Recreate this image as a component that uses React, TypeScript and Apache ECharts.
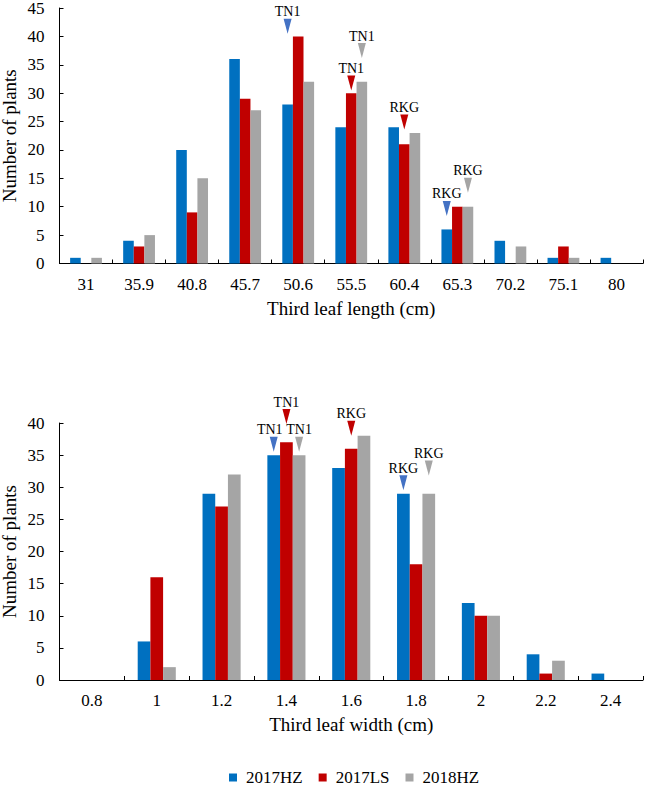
import React, { useEffect, useRef } from "react";
import * as echarts from "echarts";

const lengthCategories = ["31", "35.9", "40.8", "45.7", "50.6", "55.5", "60.4", "65.3", "70.2", "75.1", "80"];
const length2017HZ = [1, 4, 20, 36, 28, 24, 24, 6, 4, 1, 1];
const length2017LS = [0, 3, 9, 29, 40, 30, 21, 10, 0, 3, 0];
const length2018HZ = [1, 5, 15, 27, 32, 32, 23, 10, 3, 1, 0];

const widthCategories = ["0.8", "1", "1.2", "1.4", "1.6", "1.8", "2", "2.2", "2.4"];
const width2017HZ = [0, 6, 29, 35, 33, 29, 12, 4, 1];
const width2017LS = [0, 16, 27, 37, 36, 18, 10, 1, 0];
const width2018HZ = [0, 2, 32, 35, 38, 29, 10, 3, 0];

const seriesNames = ["2017HZ", "2017LS", "2018HZ"];
const barColors = ["#0070C0", "#C00000", "#A5A5A5"];
const arrowColors = ["#4472C4", "#C00000", "#A5A5A5"];

// arrow markers per series: [category index, value at arrow centre, label, extra lift px, label shift px]
type Marker = [number, number, string, number, number];
const lengthMarkers: Marker[][] = [
  [[4, 41.8, "TN1", 0, 0], [7, 9.7, "RKG", 0, 0]],
  [[5, 31.8, "TN1", 0, 0], [6, 24.9, "RKG", 0, 0]],
  [[5, 37.5, "TN1", 0, 0], [7, 13.8, "RKG", 0, 0]],
];
const widthMarkers: Marker[][] = [
  [[3, 36.7, "TN1", 0, -4], [5, 30.7, "RKG", 0, 0]],
  [[3, 40, "TN1", 6.5, 0], [4, 39.2, "RKG", 0, 0]],
  [[3, 36.7, "TN1", 0, 0], [5, 33.0, "RKG", 0, 0]],
];

const FONT = "'Liberation Serif', 'Times New Roman', serif";
const ARROW = "path://M0 0L8 0L4 15Z";

function makeMarkPoint(markers: Marker[], color: string) {
  return {
    symbol: ARROW,
    symbolSize: [8, 15],
    itemStyle: { color },
    label: {
      show: true,
      position: "top",
      distance: 0,
      formatter: "{b}",
      color: "#000",
      fontSize: 14,
      fontFamily: FONT,
    },
    data: markers.map((m) => ({
      name: m[2],
      coord: [m[0], m[1]],
      symbolOffset: [0, -m[3]],
      label: { offset: [m[4], 0] },
    })),
  };
}

function xAxisCfg(gridIndex: number, data: string[], name: string) {
  return {
    gridIndex,
    type: "category",
    data,
    axisLine: { show: true, lineStyle: { color: "#000", width: 1 } },
    axisTick: { show: true, inside: true, length: 4, lineStyle: { color: "#000" } },
    axisLabel: { interval: 0, margin: 12, fontSize: 17, color: "#000", fontFamily: FONT },
    splitLine: { show: false },
    name,
    nameLocation: "middle",
    nameGap: 35,
    nameMoveOverlap: false,
    nameTextStyle: { fontSize: 19, color: "#000", fontFamily: FONT },
  };
}

function yAxisCfg(gridIndex: number, max: number) {
  return {
    gridIndex,
    type: "value",
    min: 0,
    max,
    interval: 5,
    axisLine: { show: true, lineStyle: { color: "#000", width: 1 } },
    axisTick: { show: true, inside: true, length: 4, lineStyle: { color: "#000" } },
    axisLabel: { margin: 15, fontSize: 17, color: "#000", fontFamily: FONT },
    splitLine: { show: false },
    name: "Number of plants",
    nameLocation: "middle",
    nameGap: 41,
    nameRotate: 90,
    nameMoveOverlap: false,
    nameTextStyle: { fontSize: 19, lineHeight: 19, color: "#000", fontFamily: FONT },
  };
}

export default function App() {
  const ref = useRef<HTMLDivElement>(null);

  useEffect(() => {
    if (!ref.current) return;
    const chart = echarts.init(ref.current, null, { renderer: "svg" });
    const lengthData = [length2017HZ, length2017LS, length2018HZ];
    const widthData = [width2017HZ, width2017LS, width2018HZ];

    const series: any[] = [];
    seriesNames.forEach((name, i) => {
      series.push({
        name,
        type: "bar",
        xAxisIndex: 0,
        yAxisIndex: 0,
        data: lengthData[i],
        barWidth: 10.6,
        barGap: "0%",
        itemStyle: { color: barColors[i] },
        markPoint: makeMarkPoint(lengthMarkers[i], arrowColors[i]),
      });
    });
    seriesNames.forEach((name, i) => {
      series.push({
        name,
        type: "bar",
        xAxisIndex: 1,
        yAxisIndex: 1,
        data: widthData[i],
        barWidth: 12.7,
        barGap: "0%",
        itemStyle: { color: barColors[i] },
        markPoint: makeMarkPoint(widthMarkers[i], arrowColors[i]),
      });
    });

    chart.setOption({
      animation: false,
      backgroundColor: "#fff",
      textStyle: { fontFamily: FONT },
      grid: [
        { left: 59.5, right: 6, top: 8, height: 255.5, outerBoundsMode: "none", containLabel: false },
        { left: 59.5, right: 6, top: 423, height: 257, outerBoundsMode: "none", containLabel: false },
      ],
      xAxis: [
        xAxisCfg(0, lengthCategories, "Third leaf length (cm)"),
        xAxisCfg(1, widthCategories, "Third leaf width (cm)"),
      ],
      yAxis: [yAxisCfg(0, 45), yAxisCfg(1, 40)],
      legend: {
        data: seriesNames,
        left: 229,
        top: 769,
        padding: 0,
        icon: "rect",
        itemWidth: 8,
        itemHeight: 8,
        itemGap: 16,
        textStyle: { fontSize: 17, color: "#000", fontFamily: FONT, padding: [0, 0, 0, 4] },
      },
      series,
    });
    return () => chart.dispose();
  }, []);

  return (
    <div
      ref={ref}
      style={{ position: "absolute", left: 0, top: 0, width: 649, height: 786 }}
    />
  );
}
